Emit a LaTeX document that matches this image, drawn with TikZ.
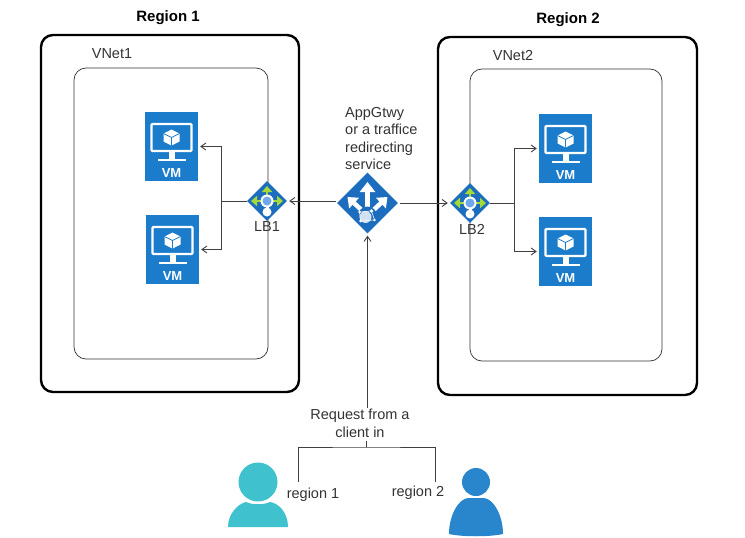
\documentclass[tikz,border=0pt]{standalone}
\usepackage{fontspec}
\setmainfont{Liberation Sans}
\usetikzlibrary{shapes.geometric,arrows.meta}

\definecolor{azure}{HTML}{1B7CCB}
\definecolor{lbblue}{HTML}{1C6DBD}
\definecolor{lbgreen}{HTML}{A4D93A}
\definecolor{lbdot}{HTML}{6FA8EC}
\definecolor{lblgray}{HTML}{333333}
\definecolor{tealuser}{HTML}{3FC1CE}
\definecolor{blueuser}{HTML}{2A86CC}

\tikzset{
  regionbox/.style={draw, rounded corners=12pt, line width=2.4pt},
  vnetbox/.style={draw=black!80, rounded corners=12pt, line width=0.7pt},
  lbl/.style={text=lblgray, font=\fontsize{14.5}{17.5}\selectfont, inner sep=0pt},
  regionlbl/.style={font=\fontsize{15}{18}\selectfont\bfseries, inner sep=0pt},
  vmbox/.style={fill=azure, minimum width=53pt, minimum height=69pt, inner sep=0pt},
  lbbox/.style={diamond, fill=lbblue, minimum width=40pt, minimum height=40pt, inner sep=0pt},
  gwbox/.style={diamond, fill=lbblue, minimum width=61pt, minimum height=61pt, inner sep=0pt},
  link/.style={draw=black!75, line width=0.9pt},
  arrowlink/.style={link, -{Straight Barb[length=5pt,width=7pt]}},
}

% VM tile: name, x, y
\newcommand{\vmicon}[3]{
  \node[vmbox] (#1) at (#2,#3) {};
  \begin{scope}[shift={(#2,#3)}]
    \draw[white, line width=2.4pt, rounded corners=1pt] (-20,-22.5) rectangle (20,4.5);
    \fill[white] (-3,5) rectangle (3,12);
    \fill[white] (-14,12) rectangle (14,14);
    \fill[white] (0,-17) -- (8,-13) -- (8,-5) -- (0,-1) -- (-8,-5) -- (-8,-13) -- cycle;
    \draw[azure, line width=0.7pt] (-8,-13) -- (0,-9) -- (8,-13) (0,-9) -- (0,-1);
    \node[text=white, font=\fontsize{13}{15}\selectfont\bfseries, inner sep=0pt] at (0,27) {VM};
  \end{scope}
}

% load balancer diamond: name, x, y
\newcommand{\lbicon}[3]{
  \node[lbbox] (#1) at (#2,#3) {};
  \begin{scope}[shift={(#2,#3)}]
    \draw[lbgreen, line width=2.2pt, {Triangle[length=6pt,width=10pt]}-{Triangle[length=6pt,width=10pt]}] (-16,0) -- (16,0);
    \draw[lbgreen, line width=2.2pt, {Triangle[length=6pt,width=10pt]}-] (0,-15) -- (0,0);
    \fill[white] (0,11) circle (4.5);
    \fill[white] (-1.5,0) rectangle (1.5,10);
    \fill[white] (0,0) circle (6.5);
    \fill[lbdot] (0,0) circle (4.5);
  \end{scope}
}

\begin{document}
\begin{tikzpicture}[x=1pt, y=-1pt]
  \useasboundingbox (0,0) rectangle (745,538);

  % boxes
  \draw[regionbox] (41,35) rectangle (299,392);
  \draw[vnetbox] (74,68) rectangle (268,359);
  \draw[regionbox] (438,37) rectangle (697,395);
  \draw[vnetbox] (470,69) rectangle (662,361);

  \node[regionlbl] (region1) at (168,18) {Region 1};
  \node[regionlbl] (region2) at (568,20) {Region 2};
  \node[lbl] (vnet1) at (112,54) {VNet1};
  \node[lbl] (vnet2) at (513,56) {VNet2};

  % icons
  \vmicon{vm1}{171.5}{146.5}
  \vmicon{vm2}{172.5}{249.5}
  \vmicon{vm3}{565.5}{148.5}
  \vmicon{vm4}{565.5}{251.5}
  \lbicon{lb1}{267}{201}
  \lbicon{lb2}{470}{203}

  \node[gwbox] (gw) at (367.5,203) {};
  \begin{scope}[shift={(367.5,203)}]
    \draw[white, line width=4.5pt, -{Triangle[length=10pt,width=15pt]}] (0,5) -- (0,-21);
    \draw[white, line width=4.5pt, -{Triangle[length=9pt,width=14pt]}] (-6,7) -- (-20,-6);
    \draw[white, line width=4.5pt, -{Triangle[length=9pt,width=14pt]}] (6,7) -- (20,-6);
    \fill[lbblue] (0,13) circle (9.5);
    \fill[white, opacity=0.8] (-2,14) circle (6);
    \fill[white] (4,8) circle (1.8) (-7,18) circle (1.5) (7,17) circle (1.3) (-8,9) circle (1.5);
    \draw[white, line width=0.5pt] (-7,18) -- (7,17) -- (4,8) -- (-8,9) -- cycle;
  \end{scope}

  \node[lbl] (lb1lbl) at (267,227) {LB1};
  \node[lbl] (lb2lbl) at (472,229) {LB2};

  \node[lbl, anchor=north west, align=left] (gwlbl) at (345,107) {AppGtwy\\or a traffice\\redirecting\\service};

  % links
  \coordinate (lb1fork) at (221,201);
  \coordinate (lb2fork) at (514,203);
  \draw[link] (lb1.west) -- (lb1fork);
  \draw[arrowlink, shorten >=2pt] (lb1fork) |- (vm1.east);
  \draw[arrowlink, shorten >=2pt] (lb1fork) |- (vm2.east);
  \draw[link] (lb2.east) -- (lb2fork);
  \draw[arrowlink, shorten >=2pt] (lb2fork) |- (vm3.west);
  \draw[arrowlink, shorten >=2pt] (lb2fork) |- (vm4.west);
  \draw[arrowlink, shorten <=1pt, shorten >=2pt] (gw.west |- lb1.east) -- (lb1.east);
  \draw[arrowlink, shorten <=2pt, shorten >=2pt] (gw.east) -- (lb2.west);

  \node[lbl, align=center] (reqlbl) at (360,423.5) {Request from a\\client in};
  \draw[arrowlink, shorten <=1pt, shorten >=2pt] (reqlbl.north -| gw.south) -- (gw.south);

  \coordinate (brtop) at (366,447);
  \coordinate (brleft) at (298,482);
  \coordinate (brright) at (435,482);
  \draw[link] (366,441) -- (brtop);
  \draw[link] (brleft) |- (brtop) -| (brright);

  \node[lbl] (reg1lbl) at (313,495) {region 1};
  \node[lbl] (reg2lbl) at (418,493) {region 2};

  % clients
  \node[circle, fill=tealuser, minimum size=39pt, inner sep=0pt] (user1) at (258,482) {};
  \fill[tealuser] (228,527) .. controls (228,512) and (240,503) .. (246,502)
    .. controls (252,505) and (264,505) .. (270,502)
    .. controls (278,503) and (288,512) .. (288,527) -- cycle;
  \node[circle, fill=blueuser, minimum size=28pt, inner sep=0pt] (user2) at (476,482) {};
  \fill[blueuser] (449,534) .. controls (449,516) and (458,499) .. (468,498)
    -- (484,498) .. controls (494,499) and (503,516) .. (503,534)
    .. controls (490,537) and (462,537) .. (449,534) -- cycle;
\end{tikzpicture}
\end{document}
